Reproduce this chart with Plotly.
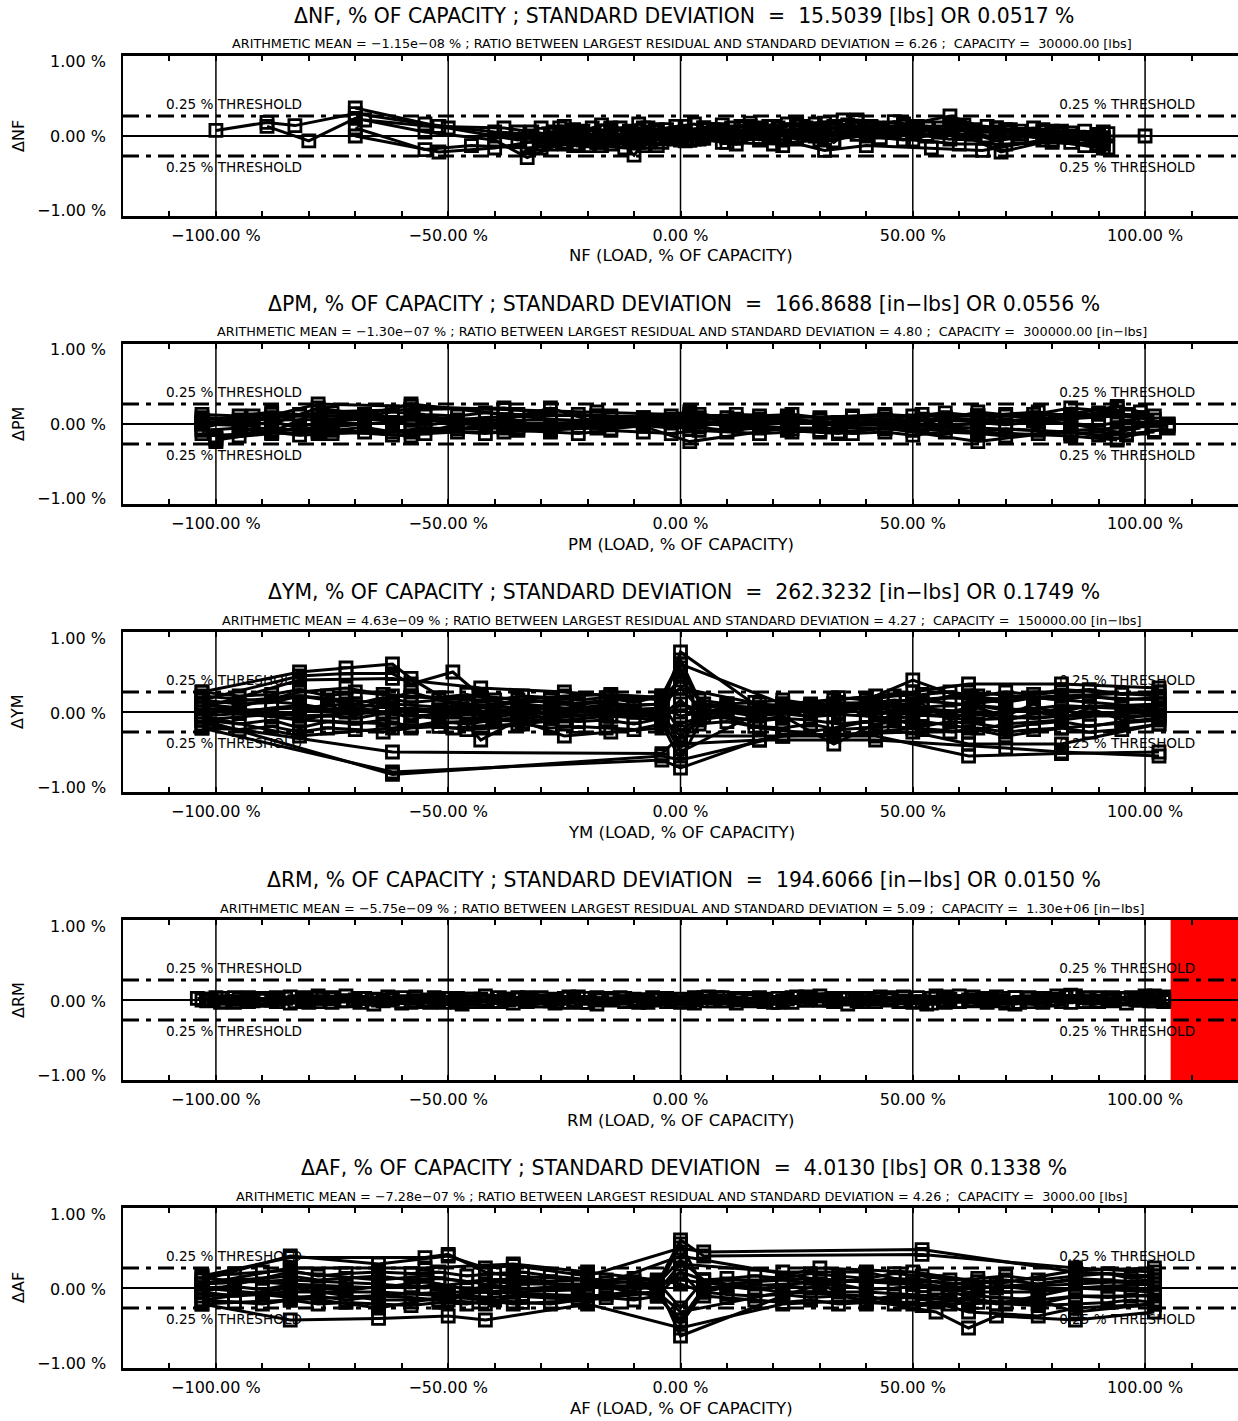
import plotly.graph_objects as go

W, H = 1238, 1421
LEFT = 123
FONT = "DejaVu Sans"

PANEL_NAMES = ["NF", "PM", "YM", "RM", "AF"]
TITLES = [
    "ΔNF, % OF CAPACITY ; STANDARD DEVIATION  =  15.5039 [lbs] OR 0.0517 %",
    "ΔPM, % OF CAPACITY ; STANDARD DEVIATION  =  166.8688 [in−lbs] OR 0.0556 %",
    "ΔYM, % OF CAPACITY ; STANDARD DEVIATION  =  262.3232 [in−lbs] OR 0.1749 %",
    "ΔRM, % OF CAPACITY ; STANDARD DEVIATION  =  194.6066 [in−lbs] OR 0.0150 %",
    "ΔAF, % OF CAPACITY ; STANDARD DEVIATION  =  4.0130 [lbs] OR 0.1338 %",
]
SUBTITLES = [
    "ARITHMETIC MEAN = −1.15e−08 % ; RATIO BETWEEN LARGEST RESIDUAL AND STANDARD DEVIATION = 6.26 ;  CAPACITY =  30000.00 [lbs]",
    "ARITHMETIC MEAN = −1.30e−07 % ; RATIO BETWEEN LARGEST RESIDUAL AND STANDARD DEVIATION = 4.80 ;  CAPACITY =  300000.00 [in−lbs]",
    "ARITHMETIC MEAN = 4.63e−09 % ; RATIO BETWEEN LARGEST RESIDUAL AND STANDARD DEVIATION = 4.27 ;  CAPACITY =  150000.00 [in−lbs]",
    "ARITHMETIC MEAN = −5.75e−09 % ; RATIO BETWEEN LARGEST RESIDUAL AND STANDARD DEVIATION = 5.09 ;  CAPACITY =  1.30e+06 [in−lbs]",
    "ARITHMETIC MEAN = −7.28e−07 % ; RATIO BETWEEN LARGEST RESIDUAL AND STANDARD DEVIATION = 4.26 ;  CAPACITY =  3000.00 [lbs]",
]
X_TITLES = [n + " (LOAD, % OF CAPACITY)" for n in PANEL_NAMES]
Y_TITLES = ["Δ" + n for n in PANEL_NAMES]

X_TICK_VALUES = list(range(-110, 111, 10))
MAJOR_TICKS = [-100, -50, 0, 50, 100]
MAJOR_LABELS = ["−100.00 %", "−50.00 %", "0.00 %", "50.00 %", "100.00 %"]
Y_LABEL_VALUES = [1, 0, -1]
Y_LABELS = ["1.00 %", "0.00 %", "−1.00 %"]
THRESHOLD = 0.25
THRESHOLD_TEXT = "0.25 % THRESHOLD"
RED_ZONE_RM = [105.5, 120]

# ---------------- NF ----------------
NF_X = [
    [-100, -89, -83, -70, -55, -40, -30, -20, -10, 0, 10, 20, 30, 40, 50, 60, 70, 80, 90, 100],
    [-89, -80, -70, -55, -40, -33, -25, -15, -5, 5, 15, 25, 35, 45, 58, 68, 80, 91],
    [-70, -52, -38, -28, -18, -8, 2, 12, 22, 31, 40, 54, 65, 78, 91],
    [-70, -55, -45, -33, -22, -12, 0, 10, 20, 30, 40, 50, 60, 69, 80, 91],
    [-70, -52, -40, -30, -20, -10, 0, 10, 20, 30, 40, 50, 60, 70, 80, 91],
    [-68, -50, -35, -25, -15, -5, 5, 15, 25, 38, 48, 58, 70, 82, 91],
    [-35, -30, -26, -22, -18, -14, -10, -6, -2, 2, 6, 10, 14, 18, 22, 26, 30],
    [-30, -20, -10, 0, 10, 20, 30, 40, 50, 60, 70, 80, 90],
    [-28, -24, -20, -16, -12, -8, -4, 0, 4, 8, 12, 16, 20, 24, 28, 33, 37],
    [-32, -27, -23, -19, -15, -11, -7, -3, 1, 5, 9, 13, 17, 21, 25, 29, 33, 38, 43, 48, 53, 58, 63, 68, 73, 78, 84, 90],
    [-32, -27, -23, -19, -15, -11, -7, -3, 1, 5, 9, 13, 17, 21, 25, 29, 33, 38, 43, 48, 53, 58, 63, 68, 73, 78, 84, 90],
    [-32, -27, -23, -19, -15, -11, -7, -3, 1, 5, 9, 13, 17, 21, 25, 29, 33, 38, 43, 48, 53, 58, 63, 68, 73, 78, 84, 90],
    [-30, -25, -21, -17, -13, -9, -5, -1, 3, 7, 11, 15, 19, 23, 27, 31, 36, 41, 46, 51, 56, 61, 66, 71, 76, 81, 87, 92],
    [-30, -25, -21, -17, -13, -9, -5, -1, 3, 7, 11, 15, 19, 23, 27, 31, 36, 41, 46, 51, 56, 61, 66, 71, 76, 81, 87, 92],
]
NF_Y = [
    [0.07, 0.17, 0.13, 0.28, 0.15, 0.05, 0.02, 0.0, 0.03, 0.02, 0.05, 0.06, 0.08, 0.12, 0.1, 0.08, 0.06, 0.04, 0.0, 0.0],
    [0.12, -0.06, 0.22, 0.05, -0.05, -0.27, -0.08, -0.05, -0.02, 0.0, 0.03, 0.05, 0.2, 0.1, 0.25, 0.05, 0.02, -0.1],
    [0.35, 0.12, 0.1, 0.02, -0.08, -0.12, -0.05, -0.03, -0.05, -0.18, -0.12, -0.15, -0.18, -0.05, -0.15],
    [0.1, -0.17, -0.12, -0.15, -0.1, -0.15, -0.05, 0.0, 0.02, 0.05, 0.05, 0.08, 0.03, -0.2, -0.05, -0.02],
    [0.0, -0.2, -0.15, -0.05, 0.02, -0.05, 0.0, 0.03, 0.06, 0.04, 0.02, 0.05, 0.1, 0.05, 0.06, 0.05],
    [0.2, 0.1, -0.05, 0.05, 0.08, 0.05, 0.1, 0.12, 0.15, 0.2, 0.15, 0.1, 0.08, 0.06, -0.05],
    [0.05, -0.1, 0.1, 0.05, -0.08, 0.0, -0.24, 0.05, 0.02, -0.05, 0.08, -0.02, 0.1, 0.05, -0.12, 0.12, 0.0],
    [-0.05, 0.0, -0.05, -0.02, -0.08, -0.1, -0.05, 0.0, -0.05, -0.1, -0.1, -0.08, -0.12],
    [-0.1, 0.02, -0.12, 0.06, -0.06, 0.1, -0.08, 0.04, -0.04, 0.08, -0.1, 0.03, 0.12, -0.02, 0.06, -0.08, 0.1],
    [0.0, 0.05, 0.08, 0.02, 0.1, 0.05, 0.0, 0.08, 0.05, 0.1, 0.06, 0.12, 0.08, 0.1, 0.14, 0.06, 0.12, 0.1, 0.08, 0.14, 0.1, 0.12, 0.08, 0.1, 0.06, 0.08, 0.04, 0.02],
    [-0.1, -0.05, -0.12, -0.06, -0.1, -0.04, -0.08, -0.02, -0.06, -0.03, -0.08, 0.0, -0.05, 0.02, -0.04, 0.0, -0.06, 0.02, -0.02, -0.05, 0.0, -0.04, 0.02, -0.06, -0.02, 0.0, -0.08, -0.1],
    [0.05, -0.02, 0.03, 0.1, -0.02, 0.06, 0.1, -0.04, 0.12, 0.02, 0.14, 0.05, 0.1, -0.02, 0.08, 0.15, 0.04, 0.18, 0.05, 0.12, 0.02, 0.15, 0.05, 0.1, 0.02, 0.05, 0.0, -0.06],
    [-0.15, -0.1, -0.05, -0.12, 0.0, -0.08, -0.12, 0.0, -0.04, 0.04, -0.02, 0.06, 0.0, 0.08, 0.04, 0.1, 0.06, 0.12, 0.05, 0.1, 0.05, 0.08, 0.0, 0.05, -0.02, 0.02, -0.12, -0.15],
    [0.1, 0.12, 0.06, 0.14, 0.1, 0.15, 0.08, 0.12, 0.15, 0.08, 0.1, 0.16, 0.12, 0.15, 0.1, 0.16, 0.14, 0.1, 0.18, 0.12, 0.1, 0.14, 0.12, 0.08, 0.1, 0.05, 0.06, 0.03],
]

# ---------------- PM ----------------
PM_GRID = [-103, -95, -88, -82, -75, -68, -62, -55, -48, -42, -35, -28, -22, -15, -8, -2, 4, 10, 17, 24, 30, 37, 44, 50, 57, 64, 70, 77, 84, 90, 96, 102]
PM_X = [
    [-103, -92, -78, -58, -38, -18, 2, 23, 44, 64, 84, 99, 105],
    [-100, -88, -78, -58, -38, -28, -8, 2, 23, 44, 64, 84, 94],
    [-103, -88, -78, -58, -38, -28, -18, 2, 12, 34, 52, 64, 76, 94, 99],
    [-100, -92, -78, -58, -48, -38, -18, -8, 2, 23, 34, 44, 64, 84, 94, 105],
    [-103, -88, -78, -68, -58, -38, -18, 2, 12, 23, 44, 52, 64, 76, 84, 94, 99],
    [-100, -88, -78, -58, -38, -18, -8, 2, 12, 23, 34, 44, 52, 64, 76, 84, 94, 99],
    [-103, -92, -78, -58, -38, -18, 2, 23, 44, 64, 84, 94, 105],
    [-100, -88, -78, -58, -38, -28, -18, -8, 2, 12, 23, 34, 44, 52, 64, 76, 84, 94],
    [-103, -88, -68, -48, -28, -8, 2, 12, 34, 52, 76, 94, 99],
    PM_GRID, PM_GRID, PM_GRID, PM_GRID, PM_GRID,
]
PM_Y = [
    [0.0, 0.05, 0.25, 0.22, 0.18, 0.15, 0.12, 0.08, 0.1, 0.1, 0.12, 0.08, 0.0],
    [-0.18, -0.12, -0.1, -0.08, -0.05, -0.05, -0.03, -0.22, -0.05, -0.05, -0.1, -0.15, -0.2],
    [0.05, 0.12, 0.1, 0.08, 0.05, 0.2, 0.02, 0.05, 0.0, -0.1, -0.02, 0.0, 0.05, 0.22, 0.15],
    [-0.22, -0.05, -0.08, -0.15, 0.0, -0.02, -0.02, 0.0, 0.02, -0.08, -0.12, -0.05, -0.22, -0.08, -0.05, -0.02],
    [0.02, 0.0, 0.2, 0.12, 0.25, 0.12, 0.1, 0.08, 0.12, 0.1, 0.05, 0.12, 0.1, 0.12, 0.2, 0.15, 0.05],
    [-0.15, -0.08, -0.05, 0.05, 0.0, 0.02, 0.05, 0.1, 0.02, 0.05, 0.0, 0.02, 0.05, 0.03, 0.05, 0.0, -0.1, -0.05],
    [-0.05, 0.1, -0.12, -0.1, -0.1, -0.05, 0.0, 0.02, -0.02, -0.05, -0.1, -0.18, -0.05],
    [-0.2, -0.1, 0.15, 0.18, 0.2, 0.12, 0.1, 0.08, 0.15, 0.05, 0.08, -0.02, 0.05, 0.0, 0.15, 0.08, 0.05, 0.2],
    [0.08, 0.05, 0.06, 0.04, 0.05, 0.04, -0.06, 0.06, 0.02, 0.06, 0.04, 0.1, 0.08],
    [0.02, 0.05, 0.08, 0.1, 0.06, 0.12, 0.08, 0.1, 0.05, 0.08, 0.1, 0.06, 0.04, 0.08, 0.05, 0.06, 0.08, 0.04, 0.06, 0.02, 0.05, 0.08, 0.06, 0.04, 0.08, 0.05, 0.1, 0.06, 0.08, 0.12, 0.1, 0.05],
    [-0.08, -0.05, -0.1, -0.06, -0.08, -0.04, -0.1, -0.05, -0.06, -0.02, -0.05, -0.08, -0.03, -0.06, -0.02, -0.05, -0.04, -0.08, -0.05, -0.06, -0.1, -0.04, -0.06, -0.08, -0.05, -0.1, -0.06, -0.08, -0.12, -0.1, -0.14, -0.08],
    [0.0, -0.02, 0.02, -0.03, 0.03, 0.0, 0.02, -0.02, 0.04, 0.0, 0.02, -0.02, 0.03, 0.0, 0.02, 0.01, -0.02, 0.03, 0.0, 0.04, 0.0, -0.02, 0.02, 0.0, -0.03, 0.02, -0.01, 0.03, 0.0, -0.02, 0.04, 0.0],
    [0.12, 0.1, 0.15, 0.12, 0.14, 0.1, 0.15, 0.12, 0.1, 0.14, 0.12, 0.1, 0.12, 0.1, 0.08, 0.1, 0.12, 0.08, 0.1, 0.12, 0.08, 0.1, 0.12, 0.1, 0.14, 0.1, 0.12, 0.15, 0.1, 0.14, 0.12, 0.1],
    [-0.12, -0.15, -0.1, -0.14, -0.12, -0.1, -0.14, -0.12, -0.1, -0.12, -0.08, -0.1, -0.12, -0.08, -0.1, -0.12, -0.08, -0.1, -0.12, -0.1, -0.08, -0.12, -0.1, -0.14, -0.1, -0.12, -0.15, -0.12, -0.1, -0.14, -0.12, -0.1],
]

# ---------------- YM ----------------
YM_GRID = [-103, -95, -88, -82, -76, -70, -64, -58, -52, -46, -40, -34, -28, -22, -16, -10, -4, 0, 4, 10, 16, 22, 28, 34, 40, 46, 52, 58, 64, 70, 76, 82, 88, 95, 103]
YM_X = [
    [-103, -82, -72, -62, -58, -49, -35, -15, -4, 0, 17, 33, 50, 62, 82, 103],
    [-103, -82, -72, -62, -58, -49, -43, -25, -4, 0, 22, 42, 50, 62, 82, 103],
    [-103, -82, -62, -43, -25, -15, -4, 0, 17, 33, 50, 62, 70, 82, 103],
    [-103, -62, -4, 0, 22, 42, 62, 82, 103],
    [-103, -62, -4, 0, 17, 42, 70, 82, 103],
    [-103, -62, -4, 0, 22, 50, 62, 82, 103],
    [-103, -82, -72, -62, -49, -43, -35, -25, -15, -4, 0, 5, 17, 22, 33, 42, 50, 62, 70, 82, 103],
    [-103, -82, -72, -62, -49, -35, -25, -15, -4, 0, 5, 17, 33, 50, 62, 70, 82, 103],
    [-103, -82, -62, -43, -25, -4, 0, 17, 22, 33, 42, 50, 62, 82, 103],
    [-103, -82, -72, -58, -49, -35, -15, -4, 0, 5, 22, 33, 42, 50, 62, 70, 82, 103],
    [-103, -82, -62, -49, -35, -25, -15, -4, 0, 17, 33, 50, 62, 70, 82, 103],
    [-103, -82, -72, -62, -43, -25, -4, 0, 5, 17, 33, 50, 62, 82, 103],
    [-103, -82, -62, -49, -35, -15, -4, 0, 5, 22, 42, 62, 82, 103],
    [-103, -72, -58, -43, -25, -4, 0, 17, 33, 50, 70, 82, 103],
    YM_GRID, YM_GRID, YM_GRID, YM_GRID, YM_GRID, YM_GRID, YM_GRID,
]
YM_Y = [
    [0.25, 0.5, 0.55, 0.6, 0.42, 0.1, 0.05, 0.02, 0.05, 0.75, 0.05, 0.15, 0.25, 0.35, 0.35, 0.3],
    [0.15, 0.45, 0.48, 0.48, 0.35, 0.5, 0.2, 0.1, 0.2, 0.6, 0.1, 0.2, 0.4, 0.15, 0.2, 0.25],
    [0.05, 0.4, 0.42, 0.3, 0.25, 0.2, 0.15, 0.3, 0.1, 0.05, 0.15, 0.2, 0.15, 0.28, 0.2],
    [-0.15, -0.5, -0.52, -0.3, -0.3, -0.3, -0.55, -0.52, -0.5],
    [-0.2, -0.75, -0.6, -0.7, -0.35, -0.35, -0.45, -0.5, -0.55],
    [-0.1, -0.78, -0.55, -0.6, -0.3, -0.25, -0.4, -0.4, -0.15],
    [0.1, 0.2, 0.15, 0.1, 0.05, -0.35, -0.1, -0.3, -0.25, -0.2, -0.15, -0.05, -0.1, -0.05, -0.4, -0.15, -0.1, -0.2, -0.3, -0.2, -0.1],
    [0.0, 0.05, 0.1, 0.05, 0.0, 0.15, 0.2, 0.22, 0.18, 0.4, 0.1, 0.05, 0.1, 0.05, 0.1, 0.15, 0.2, 0.15],
    [-0.05, -0.3, -0.2, -0.1, -0.05, 0.0, -0.4, -0.35, -0.3, -0.2, -0.1, 0.0, -0.1, -0.05, 0.0],
    [0.2, 0.1, 0.0, 0.25, 0.1, 0.0, -0.05, 0.05, -0.05, 0.0, 0.05, -0.05, 0.1, 0.05, 0.0, -0.1, 0.05, 0.1],
    [0.1, -0.1, -0.15, -0.2, -0.15, -0.1, -0.05, -0.1, 0.1, -0.2, -0.3, -0.2, -0.25, -0.15, -0.1, 0.05],
    [-0.05, 0.25, 0.3, 0.2, 0.15, 0.05, 0.1, -0.25, 0.0, 0.0, 0.05, 0.1, 0.25, 0.15, 0.05],
    [0.05, -0.05, 0.0, 0.05, -0.05, 0.1, -0.1, 0.55, 0.02, -0.02, 0.08, -0.05, 0.08, 0.02],
    [-0.1, 0.05, -0.05, 0.0, 0.1, -0.08, -0.5, 0.0, 0.1, 0.15, 0.05, -0.05, -0.05],
    [0.15, 0.1, 0.12, 0.2, 0.15, 0.1, 0.18, 0.12, 0.15, 0.1, 0.08, 0.12, 0.15, 0.1, 0.12, 0.08, 0.1, 0.3, 0.05, 0.08, 0.05, 0.1, 0.08, 0.12, 0.1, 0.15, 0.12, 0.18, 0.15, 0.12, 0.18, 0.15, 0.2, 0.15, 0.18],
    [-0.1, -0.15, -0.1, -0.2, -0.12, -0.15, -0.1, -0.18, -0.12, -0.15, -0.1, -0.12, -0.08, -0.12, -0.1, -0.15, -0.08, -0.3, -0.1, -0.05, -0.12, -0.08, -0.1, -0.15, -0.12, -0.1, -0.18, -0.12, -0.15, -0.2, -0.15, -0.12, -0.18, -0.12, -0.08],
    [0.05, 0.0, 0.05, 0.08, 0.02, 0.06, 0.0, 0.05, 0.02, 0.08, 0.03, 0.0, 0.05, 0.02, 0.06, 0.0, 0.04, -0.45, 0.0, 0.05, 0.02, 0.0, 0.04, 0.0, 0.06, 0.02, 0.05, 0.0, 0.08, 0.02, 0.05, 0.0, 0.08, 0.05, 0.1],
    [-0.05, -0.02, -0.06, -0.1, -0.04, -0.08, -0.02, -0.05, -0.08, -0.03, -0.06, -0.02, -0.08, -0.04, -0.02, -0.06, -0.02, 0.5, -0.04, 0.0, -0.05, -0.02, -0.06, -0.03, -0.05, -0.08, -0.04, -0.06, -0.02, -0.05, -0.08, -0.05, -0.02, -0.06, -0.04],
    [0.25, 0.2, 0.22, 0.28, 0.2, 0.25, 0.22, 0.2, 0.18, 0.22, 0.15, 0.2, 0.18, 0.15, 0.18, 0.12, 0.2, 0.65, 0.15, 0.1, 0.12, 0.15, 0.1, 0.18, 0.15, 0.2, 0.22, 0.25, 0.2, 0.25, 0.22, 0.25, 0.28, 0.22, 0.25],
    [-0.2, -0.22, -0.18, -0.25, -0.2, -0.22, -0.25, -0.2, -0.18, -0.22, -0.2, -0.15, -0.2, -0.18, -0.2, -0.22, -0.15, -0.6, -0.15, -0.12, -0.18, -0.2, -0.15, -0.22, -0.2, -0.18, -0.22, -0.25, -0.2, -0.25, -0.22, -0.2, -0.25, -0.22, -0.15],
    [0.1, 0.05, -0.05, 0.0, 0.1, -0.05, 0.08, -0.1, 0.0, 0.12, -0.08, 0.05, -0.05, 0.08, -0.1, 0.05, -0.05, 0.15, -0.08, 0.1, -0.1, 0.05, -0.08, 0.1, -0.05, 0.0, 0.1, -0.1, 0.05, -0.05, 0.1, -0.08, 0.05, -0.1, 0.0],
]

# ---------------- RM ----------------
RM_GRID_A = [-102, -96, -90, -84, -78, -72, -66, -60, -54, -48, -42, -36, -30, -24, -18, -12, -6, 0, 6, 12, 18, 24, 30, 36, 42, 48, 54, 60, 66, 72, 78, 84, 90, 96, 102]
RM_GRID_B = [-99, -93, -87, -81, -75, -69, -63, -57, -51, -45, -39, -33, -27, -21, -15, -9, -3, 3, 9, 15, 21, 27, 33, 39, 45, 51, 57, 63, 69, 75, 81, 87, 93, 99, 104]
RM_X = [
    [-104, -95, -85, -75, -65, -55, -45, -35, -25, -15, -5, 5, 15, 25, 35, 45, 55, 65, 75, 85, 95, 104],
    [-103, -92, -80, -70, -60, -50, -40, -30, -20, -10, 0, 10, 20, 30, 40, 50, 60, 70, 80, 90, 100],
    [-100, -90, -78, -62, -52, -42, -32, -22, -12, -2, 8, 18, 28, 38, 48, 58, 68, 78, 88, 98, 103],
    [-98, -87, -73, -58, -47, -37, -27, -17, -7, 3, 13, 23, 33, 43, 53, 63, 73, 83, 93, 102],
    [-102, -93, -83, -68, -57, -43, -33, -23, -13, -3, 7, 17, 27, 37, 47, 57, 67, 77, 87, 97, 104],
    [-101, -96, -88, -77, -64, -53, -48, -38, -28, -18, -8, 2, 12, 22, 32, 42, 52, 62, 72, 82, 92, 101],
    RM_GRID_A, RM_GRID_A, RM_GRID_B, RM_GRID_B,
]
RM_Y = [
    [0.02, 0.01, 0.02, 0.03, 0.0, -0.02, 0.01, 0.03, 0.02, 0.0, 0.01, 0.03, 0.02, 0.04, 0.01, 0.0, 0.05, 0.02, 0.03, 0.05, 0.02, 0.04],
    [0.0, -0.01, -0.03, 0.0, -0.04, 0.02, -0.02, -0.01, -0.03, 0.01, -0.02, -0.01, -0.03, 0.0, 0.02, -0.03, -0.02, -0.04, 0.0, -0.01, 0.05],
    [0.03, 0.02, 0.05, 0.01, 0.0, -0.01, 0.02, 0.04, -0.02, 0.0, 0.03, 0.01, 0.02, -0.01, 0.03, 0.01, 0.04, -0.03, 0.02, 0.0, 0.03],
    [-0.02, 0.01, -0.01, -0.03, -0.05, 0.0, -0.04, 0.02, -0.03, -0.04, 0.0, 0.01, -0.02, 0.04, -0.05, -0.01, -0.03, 0.04, 0.0, 0.02],
    [0.01, 0.03, -0.02, 0.02, 0.04, 0.01, -0.02, 0.0, 0.03, 0.02, -0.01, 0.03, 0.0, 0.02, -0.02, 0.04, 0.01, 0.02, -0.02, 0.03, 0.0],
    [0.0, -0.02, 0.0, 0.02, -0.01, 0.03, -0.03, 0.01, -0.01, 0.03, 0.0, -0.02, 0.02, -0.01, 0.0, 0.02, -0.02, 0.0, 0.03, -0.02, 0.01, -0.01],
    [0.01, 0.03, 0.0, 0.04, 0.02, 0.05, 0.01, 0.03, 0.0, 0.02, 0.05, 0.01, 0.03, 0.04, 0.0, 0.02, 0.03, 0.01, 0.04, 0.02, 0.0, 0.03, 0.05, 0.02, 0.01, 0.04, 0.02, 0.05, 0.0, 0.03, 0.02, 0.06, 0.03, 0.01, 0.05],
    [-0.01, -0.03, 0.0, -0.04, -0.02, -0.01, -0.05, -0.02, -0.03, 0.0, -0.02, -0.04, -0.01, -0.03, -0.05, -0.02, 0.0, -0.03, -0.01, -0.04, -0.02, -0.03, 0.0, -0.05, -0.02, -0.01, -0.04, -0.02, -0.03, -0.05, -0.01, -0.03, -0.02, -0.04, -0.01],
    [0.02, -0.02, 0.03, 0.0, -0.03, 0.02, 0.04, -0.01, 0.02, -0.02, 0.03, 0.0, -0.02, 0.02, 0.01, -0.03, 0.02, 0.0, 0.03, -0.01, 0.02, 0.04, -0.02, 0.01, 0.03, -0.02, 0.0, 0.04, -0.01, 0.02, 0.05, -0.02, 0.03, 0.0, 0.02],
    [-0.03, 0.01, -0.02, 0.03, 0.01, -0.03, 0.0, 0.02, -0.03, 0.01, -0.02, 0.03, 0.01, -0.03, 0.02, 0.0, -0.02, 0.03, -0.01, 0.02, -0.03, 0.0, 0.02, -0.02, 0.01, 0.03, -0.03, 0.0, 0.02, -0.02, 0.01, 0.03, -0.01, 0.02, -0.02],
]

# ---------------- AF ----------------
AF_GRID = [-103, -96, -90, -84, -78, -72, -65, -58, -52, -46, -40, -34, -28, -22, -16, -10, -5, 0, 5, 10, 16, 22, 28, 34, 40, 46, 52, 58, 64, 70, 77, 85, 92, 97, 102]
AF_X = [
    [-103, -84, -65, -50, -42, -36, -20, 0, 5, 52, 85, 102],
    [-103, -84, -55, -50, -42, -36, -20, -5, 0, 5, 52, 85, 102],
    [-103, -84, -65, -50, -42, -20, 0, 22, 40, 55, 62, 68, 85, 102],
    [-103, -84, -65, -55, -42, -36, -20, -5, 0, 22, 30, 40, 50, 62, 77, 85, 102],
    [-103, -84, -65, -50, -36, -20, -5, 0, 22, 40, 55, 68, 77, 85, 102],
    [-103, -84, -65, -55, -42, -36, -20, -5, 0, 5, 22, 30, 40, 50, 62, 77, 85, 102],
    [-103, -84, -65, -50, -42, -20, -5, 0, 22, 40, 50, 62, 77, 85, 102],
    [-103, -84, -55, -36, -20, -5, 0, 5, 30, 50, 68, 85, 102],
    [-103, -84, -65, -50, -42, -36, -20, 0, 22, 40, 55, 62, 77, 85, 102],
    [-103, -84, -65, -55, -42, -20, -5, 0, 5, 22, 40, 55, 68, 85, 102],
    [-103, -84, -50, -36, -20, 0, 30, 50, 62, 77, 85, 102],
    AF_GRID, AF_GRID, AF_GRID, AF_GRID, AF_GRID,
]
AF_Y = [
    [0.1, 0.4, 0.3, 0.4, 0.25, 0.28, 0.15, 0.5, 0.45, 0.48, 0.2, 0.15],
    [0.15, 0.38, 0.38, 0.42, 0.2, 0.15, 0.1, 0.05, 0.6, 0.4, 0.42, 0.25, 0.2],
    [-0.2, -0.4, -0.38, -0.35, -0.4, -0.2, -0.5, -0.2, -0.15, -0.3, -0.5, -0.35, -0.4, -0.3],
    [-0.05, 0.2, 0.1, 0.15, 0.05, 0.1, 0.0, 0.05, -0.6, -0.1, 0.05, -0.2, -0.1, -0.3, -0.35, -0.25, -0.2],
    [0.0, -0.1, -0.25, -0.1, -0.2, -0.15, -0.05, 0.3, 0.2, 0.2, 0.0, -0.2, -0.1, 0.0, 0.05],
    [0.05, 0.1, 0.05, 0.0, 0.1, 0.05, 0.05, 0.0, 0.2, 0.1, 0.1, 0.05, 0.1, 0.05, 0.0, 0.05, 0.1, 0.05],
    [-0.1, -0.05, -0.05, -0.1, -0.05, -0.1, -0.05, -0.3, -0.05, -0.1, -0.2, -0.15, -0.2, -0.1, -0.1],
    [0.05, 0.25, 0.25, 0.3, 0.2, 0.1, 0.05, -0.05, 0.25, 0.2, 0.05, 0.22, 0.25],
    [-0.15, 0.0, -0.15, -0.15, -0.2, -0.1, -0.15, 0.1, -0.05, -0.05, -0.1, -0.2, -0.15, -0.3, -0.2],
    [0.12, 0.05, 0.0, 0.08, -0.05, 0.05, -0.1, -0.4, 0.0, 0.05, 0.1, 0.08, 0.0, 0.05, 0.1],
    [-0.2, -0.15, -0.05, -0.05, -0.02, 0.4, 0.1, 0.05, -0.05, -0.05, 0.0, -0.05],
    [0.05, 0.1, 0.12, 0.15, 0.1, 0.12, 0.15, 0.1, 0.12, 0.08, 0.1, 0.12, 0.08, 0.1, 0.06, 0.08, 0.05, 0.35, 0.1, 0.05, 0.08, 0.1, 0.12, 0.1, 0.08, 0.12, 0.1, 0.05, 0.08, 0.1, 0.05, 0.12, 0.1, 0.08, 0.1],
    [-0.05, -0.1, -0.08, -0.12, -0.1, -0.15, -0.1, -0.12, -0.15, -0.1, -0.12, -0.08, -0.1, -0.12, -0.08, -0.05, -0.08, -0.45, -0.05, -0.08, -0.1, -0.08, -0.12, -0.1, -0.15, -0.1, -0.12, -0.15, -0.1, -0.12, -0.15, -0.1, -0.12, -0.1, -0.08],
    [0.0, 0.02, -0.02, 0.04, 0.0, -0.03, 0.02, 0.0, 0.05, -0.02, 0.03, 0.0, -0.02, 0.03, 0.0, 0.02, -0.02, 0.55, 0.0, 0.02, -0.02, 0.03, 0.0, 0.05, -0.02, 0.0, 0.03, -0.02, 0.0, 0.02, -0.03, 0.0, 0.02, -0.02, 0.0],
    [0.15, 0.18, 0.2, 0.22, 0.15, 0.18, 0.2, 0.18, 0.2, 0.15, 0.18, 0.2, 0.15, 0.12, 0.1, 0.12, 0.08, -0.25, 0.1, 0.12, 0.15, 0.12, 0.18, 0.15, 0.12, 0.18, 0.15, 0.1, 0.12, 0.15, 0.1, 0.15, 0.18, 0.12, 0.15],
    [-0.15, -0.18, -0.2, -0.15, -0.2, -0.18, -0.2, -0.22, -0.18, -0.2, -0.15, -0.18, -0.2, -0.15, -0.12, -0.15, -0.1, 0.2, -0.1, -0.12, -0.15, -0.18, -0.15, -0.2, -0.18, -0.2, -0.22, -0.2, -0.18, -0.2, -0.22, -0.2, -0.18, -0.15, -0.18],
]

PANEL_X = [NF_X, PM_X, YM_X, RM_X, AF_X]
PANEL_Y = [NF_Y, PM_Y, YM_Y, RM_Y, AF_Y]

# ---------------- layout helpers ----------------
PANEL_TOP0 = 56
PANEL_H = 160
PANEL_STEP = 288
PW = W - LEFT
LABEL_LIFT_UP = 0.045     # text placement nudges (in axis units)
LABEL_DROP_DOWN = 0.07


def px_x(px):
    return (px - LEFT) / PW


def px_y(py):
    return 1 - py / H


fig = go.Figure()
annotations = []
shapes = []

for i, name in enumerate(PANEL_NAMES):
    n = i + 1
    xa = "x" if n == 1 else f"x{n}"
    ya = "y" if n == 1 else f"y{n}"
    top = PANEL_TOP0 + PANEL_STEP * i
    bot = top + PANEL_H

    # threshold labels (drawn first, under data)
    fig.add_trace(go.Scatter(
        x=[-110.75, -110.75, 81.5, 81.5],
        y=[THRESHOLD + LABEL_LIFT_UP, -THRESHOLD - LABEL_DROP_DOWN,
           THRESHOLD + LABEL_LIFT_UP, -THRESHOLD - LABEL_DROP_DOWN],
        mode="text",
        text=[THRESHOLD_TEXT] * 4,
        textposition=["top right", "bottom right", "top right", "bottom right"],
        textfont=dict(family=FONT, size=13.6, color="black"),
        xaxis=xa, yaxis=ya, showlegend=False, hoverinfo="skip",
    ))

    # data series
    for xs, ys in zip(PANEL_X[i], PANEL_Y[i]):
        fig.add_trace(go.Scatter(
            x=xs, y=ys, mode="lines+markers",
            line=dict(color="black", width=3),
            marker=dict(symbol="square-open", size=12, color="black",
                        line=dict(width=2.8, color="black")),
            xaxis=xa, yaxis=ya, showlegend=False,
        ))

    # threshold lines
    for t in (THRESHOLD, -THRESHOLD):
        fig.add_trace(go.Scatter(
            x=[-120, 120], y=[t, t], mode="lines",
            line=dict(color="black", width=3, dash="16px,7px,5px,7px"),
            xaxis=xa, yaxis=ya, showlegend=False, hoverinfo="skip",
        ))

    dom = [px_y(bot), px_y(top)]
    fig.update_layout(**{
        ("xaxis" if n == 1 else f"xaxis{n}"): dict(
            domain=[0, 1], range=[-120, 120], anchor=ya,
            tickmode="array", tickvals=X_TICK_VALUES,
            ticktext=[MAJOR_LABELS[MAJOR_TICKS.index(v)] if v in MAJOR_TICKS else "" for v in X_TICK_VALUES],
            ticks="inside", ticklen=5, tickwidth=1.5, tickcolor="black",
            showline=True, linewidth=3, linecolor="black", mirror="allticks",
            showgrid=False, zeroline=False,
            tickfont=dict(family=FONT, size=16, color="black"),
            ticklabelstandoff=3,
        ),
        ("yaxis" if n == 1 else f"yaxis{n}"): dict(
            domain=dom, range=[-1, 1], anchor=xa,
            showticklabels=False, ticks="",
            showline=True, linewidth=2, linecolor="black",
            showgrid=False, zeroline=True, zerolinecolor="black", zerolinewidth=2,
        ),
    })

    # vertical reference lines
    for v in MAJOR_TICKS:
        shapes.append(dict(type="line", xref=xa, yref=f"{ya} domain",
                           x0=v, x1=v, y0=0, y1=1,
                           line=dict(color="black", width=1.5), layer="below"))

    # y tick labels
    for v, lab, sh in zip(Y_LABEL_VALUES, Y_LABELS, [-6, -1, 5]):
        annotations.append(dict(text=lab, xref="paper", yref=ya, x=px_x(108), y=v,
                                xanchor="right", yanchor="middle", yshift=sh, showarrow=False,
                                font=dict(family=FONT, size=16, color="black")))

    # titles
    annotations.append(dict(text=TITLES[i], xref="paper", yref="paper",
                            x=px_x(684), y=px_y(top - 40), xanchor="center", yanchor="middle",
                            showarrow=False, font=dict(family=FONT, size=20.4, color="black")))
    annotations.append(dict(text=SUBTITLES[i], xref="paper", yref="paper",
                            x=px_x(682), y=px_y(top - 12), xanchor="center", yanchor="middle",
                            showarrow=False, font=dict(family=FONT, size=12.8, color="black")))
    annotations.append(dict(text=X_TITLES[i], xref="paper", yref="paper",
                            x=px_x(681), y=px_y(bot + 40), xanchor="center", yanchor="middle",
                            showarrow=False, font=dict(family=FONT, size=16.5, color="black")))
    annotations.append(dict(text=Y_TITLES[i], xref="paper", yref="paper",
                            x=px_x(18), y=px_y((top + bot) / 2), xanchor="center", yanchor="middle",
                            textangle=-90, showarrow=False,
                            font=dict(family=FONT, size=16, color="black")))

# red zone in RM panel
shapes.append(dict(type="rect", xref="x4", yref="y4 domain",
                   x0=RED_ZONE_RM[0], x1=RED_ZONE_RM[1], y0=0, y1=1,
                   fillcolor="#ff0000", line=dict(width=0), layer="below"))

fig.update_layout(
    width=W, height=H,
    margin=dict(l=LEFT, r=0, t=0, b=0),
    paper_bgcolor="white", plot_bgcolor="white",
    showlegend=False,
    annotations=annotations, shapes=shapes,
    font=dict(family=FONT, color="black"),
)

fig.write_html("out.html", config={"displayModeBar": False},
               post_script="document.body.style.margin='0';")
